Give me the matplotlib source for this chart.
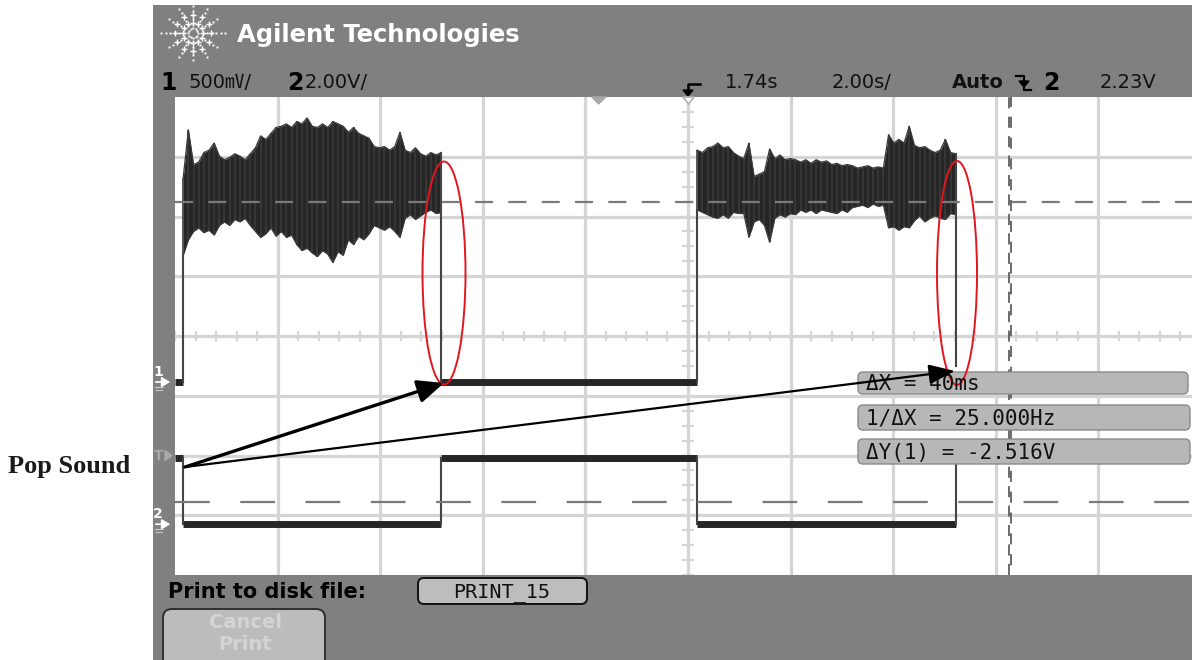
import numpy as np
import matplotlib
matplotlib.use("Agg")
import matplotlib.pyplot as plt
from matplotlib.patches import Rectangle, FancyBboxPatch, Ellipse, Polygon

plt.rcParams["lines.scale_dashes"] = False

# ---------------- scope settings ----------------
ch1_scale = 0.5        # V/div
ch2_scale = 2.0        # V/div
time_per_div = 2.0     # s/div
delay = 1.74           # s (centre of screen)
trig_level = 2.23      # V

# ---------------- waveform data ----------------
edge_times = [-8.10, -3.07, 1.92, 6.96]          # s
ch1_low = 0.0
ch1_end_level = 0.13
ch2_levels = [2.2, 0.0, 2.2, 0.0, 2.2]

burst1_upper = [1.71, 2.11, 1.82, 1.84, 1.92, 1.94, 2.00, 1.89, 1.86, 1.88, 1.91, 1.89, 1.86,
                1.91, 1.96, 2.06, 2.03, 2.08, 2.13, 2.14, 2.16, 2.13, 2.18, 2.16, 2.21, 2.14,
                2.13, 2.16, 2.13, 2.18, 2.16, 2.14, 2.09, 2.13, 2.08, 2.06, 2.04, 1.97, 1.96,
                1.97, 1.94, 1.97, 2.09, 1.94, 1.92, 1.96, 1.91, 1.89, 1.92, 1.90, 1.92]
burst1_lower = [1.06, 1.19, 1.26, 1.29, 1.25, 1.27, 1.23, 1.31, 1.34, 1.31, 1.36, 1.34, 1.37,
                1.31, 1.26, 1.21, 1.24, 1.29, 1.22, 1.26, 1.21, 1.23, 1.15, 1.10, 1.12, 1.08,
                1.05, 1.10, 1.07, 1.00, 1.09, 1.06, 1.19, 1.15, 1.22, 1.19, 1.24, 1.31, 1.29,
                1.27, 1.30, 1.26, 1.21, 1.37, 1.40, 1.36, 1.39, 1.42, 1.44, 1.41, 1.42]
burst2_upper = [1.94, 1.92, 1.96, 1.97, 2.00, 1.96, 1.97, 1.92, 1.89, 1.87, 2.00, 1.72, 1.74,
                1.76, 1.95, 1.87, 1.90, 1.86, 1.87, 1.86, 1.84, 1.86, 1.83, 1.86, 1.84, 1.85,
                1.82, 1.83, 1.81, 1.82, 1.81, 1.79, 1.80, 1.81, 1.79, 1.80, 1.79, 2.07, 2.00,
                2.03, 2.00, 2.14, 1.98, 1.96, 1.97, 1.94, 1.92, 1.94, 2.03, 1.92, 1.91]
burst2_lower = [1.44, 1.42, 1.40, 1.38, 1.37, 1.40, 1.37, 1.42, 1.41, 1.41, 1.21, 1.34, 1.36,
                1.31, 1.17, 1.37, 1.40, 1.38, 1.41, 1.40, 1.44, 1.42, 1.44, 1.41, 1.44, 1.43,
                1.42, 1.41, 1.44, 1.42, 1.46, 1.47, 1.48, 1.46, 1.49, 1.47, 1.48, 1.29, 1.30,
                1.27, 1.30, 1.29, 1.35, 1.39, 1.34, 1.37, 1.39, 1.37, 1.36, 1.41, 1.40]

# cursors
cursor_y1 = 1.51
delta_y = -2.516
cursor_x1 = 7.99
delta_x = 0.040

# texts
header_title = "Agilent Technologies"
meas_lines = ["\u0394X = 40ms", "1/\u0394X = 25.000Hz", "\u0394Y(1) = -2.516V"]
annot_label = "Pop Sound"

# ---------------- layout ----------------
W, H = 1192, 660
fig = plt.figure(figsize=(W / 100, H / 100), dpi=100)
fig.patch.set_facecolor("white")

PX_DIV_X = 102.6
GL, GT, GB = 175, 97, 575
GCX = 688
CH1_POS = -0.77     # ground marker position (div)
CH2_POS = -3.15

def ch1_div(v):
    return CH1_POS + np.asarray(v, dtype=float) / ch1_scale

def ch2_div(v):
    return CH2_POS + np.asarray(v, dtype=float) / ch2_scale

# background (pixel coordinates)
bg = fig.add_axes([0, 0, 1, 1], zorder=0)
bg.set_xlim(0, W); bg.set_ylim(H, 0); bg.axis("off")
GRAY = "#808080"
bg.add_patch(Rectangle((153, 5), W - 153, H - 5, color=GRAY, lw=0))

# graticule axes
ax = fig.add_axes([GL / W, (H - GB) / H, (W - GL) / W, (GB - GT) / H], zorder=1)
xmin = delay - 5 * time_per_div
xmax = delay + (W - GCX) / PX_DIV_X * time_per_div
ax.set_xlim(xmin, xmax)
ax.set_ylim(-4, 4)
ax.set_facecolor("white")
for s in ax.spines.values():
    s.set_visible(False)
ax.set_xticks([]); ax.set_yticks([])

GRID = "#d5d5d5"
for k in range(-4, 5):
    ax.axvline(delay + k * time_per_div, color=GRID, lw=2.3, zorder=1)
for k in range(-3, 4):
    ax.axhline(k, color=GRID, lw=2.3, zorder=1)
# centre-axis minor ticks
for yy in np.arange(-4, 4.01, 0.25):
    ax.plot([delay - 0.1, delay + 0.1], [yy, yy], color=GRID, lw=1.6, zorder=1)
for xx in np.arange(delay - 10, xmax, 0.4):
    ax.plot([xx, xx], [-0.07, 0.07], color=GRID, lw=1.6, zorder=1)

# cursors (drawn over the traces)
ax.axhline(ch1_div(cursor_y1), color="#7a7a7a", lw=1.6, dashes=(13, 11), zorder=5)
ax.axhline(ch1_div(cursor_y1 + delta_y), color="#7a7a7a", lw=1.6, dashes=(25, 22), zorder=5)
ax.axvline(cursor_x1, color="#6a6a6a", lw=1.4, dashes=(8, 6), zorder=5)
ax.axvline(cursor_x1 + delta_x, color="#6a6a6a", lw=1.4, dashes=(0, 7, 8, 0), zorder=5)

TRACE = "#262626"
EDGE = "#444444"
e0, e1, e2, e3 = edge_times

# channel 1
for a, b in [(xmin, e0), (e1, e2)]:
    ax.plot([a, b], ch1_div([ch1_low, ch1_low]), color=TRACE, lw=5, solid_capstyle="butt", zorder=3)
for t_edges, up, lo in [((e0, e1), burst1_upper, burst1_lower), ((e2, e3), burst2_upper, burst2_lower)]:
    t = np.linspace(t_edges[0], t_edges[1], len(up))
    ax.fill_between(t, ch1_div(lo), ch1_div(up), color=TRACE, lw=0, zorder=3)
    ax.vlines(t, ch1_div(lo), ch1_div(up), color="#3a3a3a", lw=1.2, zorder=3)
    ax.plot(t, ch1_div(up), color="#3a3a3a", lw=0.9, zorder=3)
    ax.plot(t, ch1_div(lo), color="#3a3a3a", lw=0.9, zorder=3)
ax.plot([e0, e0], ch1_div([ch1_low, burst1_lower[0]]), color=EDGE, lw=1.5, zorder=3)
ax.plot([e1, e1], ch1_div([burst1_upper[-1], ch1_low]), color=EDGE, lw=1.5, zorder=3)
ax.plot([e2, e2], ch1_div([ch1_low, burst2_lower[0]]), color=EDGE, lw=1.5, zorder=3)
ax.plot([e3, e3], ch1_div([burst2_upper[-1], ch1_end_level]), color=EDGE, lw=1.5, zorder=3)

# channel 2
bounds = [xmin] + edge_times
for i in range(4):
    ax.plot([bounds[i], bounds[i + 1]], ch2_div([ch2_levels[i]] * 2), color=TRACE, lw=5,
            solid_capstyle="butt", zorder=3)
for i, te in enumerate(edge_times):
    ax.plot([te, te], ch2_div([ch2_levels[i], ch2_levels[i + 1]]), color=EDGE, lw=1.5, zorder=3)

# ---------------- overlay (pixel coordinates) ----------------
ov = fig.add_axes([0, 0, 1, 1], zorder=4)
ov.set_xlim(0, W); ov.set_ylim(H, 0); ov.axis("off")
ov.patch.set_alpha(0)

# logo star
cx, cy = 193, 33
for ang in range(0, 360, 30):
    r = np.radians(ang)
    rx = 36 if ang % 180 == 0 else 30
    ry = 29 if ang % 180 == 90 else 30
    rr = np.arange(5, 1.01 * max(rx, ry), 4.5)
    xs = cx + np.cos(r) * rr * rx / max(rx, ry)
    ys = cy - np.sin(r) * rr * ry / max(rx, ry)
    ov.plot(xs, ys, ls="none", marker="s", ms=1.4, color="white", mew=0)
    for rp in (10, 18):
        ov.plot(cx + np.cos(r) * rp, cy - np.sin(r) * rp, marker="+", ms=4, mew=1.0, color="white")
ov.text(237, 35, header_title, color="white", fontsize=17.5, fontweight="bold",
        va="center", ha="left", family="DejaVu Sans")

# status line
ST_Y = 83
ov.text(160, ST_Y, "1", fontsize=17, fontweight="bold", va="center", ha="left")
ov.text(189, ST_Y, "500\u33B7/", fontsize=14, va="center", ha="left",
        family=["DejaVu Sans", "Noto Sans CJK JP"], color="#111111")
ov.text(287, ST_Y, "2", fontsize=17, fontweight="bold", va="center", ha="left")
ov.text(305, ST_Y, "2.00V/", fontsize=14, va="center", ha="left", color="#111111")
ov.text(725, ST_Y, "1.74s", fontsize=14, va="center", ha="left", color="#111111")
ov.text(832, ST_Y, "2.00s/", fontsize=14, va="center", ha="left", color="#111111")
ov.text(952, ST_Y, "Auto", fontsize=14, fontweight="bold", va="center", ha="left", color="#111111")
# falling-edge trigger symbol
ov.plot([1016, 1024, 1024, 1031], [76, 76, 90, 90], color="black", lw=1.6)
ov.add_patch(Polygon([[1019, 81], [1029, 81], [1024, 87]], closed=True, color="black"))
ov.text(1043, ST_Y, "2", fontsize=17, fontweight="bold", va="center", ha="left")
ov.text(1100, ST_Y, "2.23V", fontsize=14, va="center", ha="left", color="#111111")

# delay reference marker
ov.plot([700, 688, 688], [84, 84, 91], color="black", lw=1.8)
ov.add_patch(Polygon([[683, 90], [693, 90], [688, 96]], closed=True, color="black"))
ov.add_patch(Polygon([[683, 97], [694, 97], [688.5, 104]], closed=True, fc="white", ec="#b0b0b0", lw=1.2))
# trigger point marker (t = 0)
t0_px = GCX + (0 - delay) / time_per_div * PX_DIV_X
ov.add_patch(Polygon([[t0_px - 7, 97], [t0_px + 7, 97], [t0_px, 104]], closed=True, color="#a8a8a8"))

# channel / trigger markers on the left strip
def ch_px(divv):
    return 336 - divv * 59.75

for lab, ypx, col in [("1", ch_px(CH1_POS), "white"), ("2", ch_px(CH2_POS), "white")]:
    ov.text(158, ypx - 10, lab, fontsize=10, fontweight="bold", color=col, ha="center", va="center")
    ov.annotate("", xy=(173, ypx), xytext=(153, ypx),
                arrowprops=dict(arrowstyle="-|>,head_length=0.5,head_width=0.3", color=col, lw=1.2))
    ov.plot([155, 163], [ypx + 5, ypx + 5], color="#c8c8c8", lw=0.8)
    ov.plot([156, 162], [ypx + 8, ypx + 8], color="#c8c8c8", lw=0.8)
ytrig = ch_px(ch2_div(trig_level))
ov.text(159, ytrig - 2, "T", fontsize=10, fontweight="bold", color="#a8a8a8", ha="center", va="center")
ov.add_patch(Polygon([[165, ytrig - 7], [165, ytrig + 3], [172, ytrig - 2]], closed=True, color="#a8a8a8"))

# measurement boxes
boxes = [(858, 372, 330, 22), (858, 405, 332, 25), (858, 439, 332, 25)]
for (bx, by, bw, bh), txt in zip(boxes, meas_lines):
    ov.add_patch(FancyBboxPatch((bx, by), bw, bh, boxstyle="round,pad=0,rounding_size=5",
                                fc="#b7b7b7", ec="#8a8a8a", lw=1.0))
    ov.text(866, by + bh / 2 + 1, txt, fontsize=15, va="center", ha="left",
            family="DejaVu Sans Mono", color="#111111")

# bottom bar
ov.text(168, 592, "Print to disk file:", fontsize=15, fontweight="bold", va="center", ha="left")
ov.add_patch(FancyBboxPatch((418, 578), 169, 26, boxstyle="round,pad=0,rounding_size=6",
                            fc="#bdbdbd", ec="#111111", lw=1.4))
ov.text(502, 597, "PRINT_15", fontsize=14.5, va="baseline", ha="center",
        family="DejaVu Sans Mono", color="#111111")
ov.add_patch(FancyBboxPatch((163, 609), 162, 60, boxstyle="round,pad=0,rounding_size=9",
                            fc="#bcbcbc", ec="#2f2f2f", lw=1.4))
ov.text(245, 622, "Cancel", fontsize=14, fontweight="bold", color="#d4d4d4", ha="center", va="center")
ov.text(245, 645, "Print", fontsize=14, fontweight="bold", color="#d4d4d4", ha="center", va="center")

# annotation: red ellipses, arrows, label
ov.add_patch(Ellipse((444, 273), 43, 223, fill=False, ec="#e3161e", lw=1.4))
ov.add_patch(Ellipse((957, 273), 40, 224, fill=False, ec="#e3161e", lw=1.4))
ov.annotate("", xy=(444, 383), xytext=(185, 467),
            arrowprops=dict(arrowstyle="-|>,head_length=0.8,head_width=0.35", color="black",
                            lw=2.4, shrinkA=0, shrinkB=0, mutation_scale=20))
ov.annotate("", xy=(955, 371), xytext=(185, 467),
            arrowprops=dict(arrowstyle="-|>,head_length=0.8,head_width=0.3", color="black",
                            lw=1.6, shrinkA=0, shrinkB=0, mutation_scale=20))
ov.text(8, 467, annot_label, fontsize=19, fontweight="bold", family="Liberation Serif",
        va="center", ha="left", color="#1a1a1a")

fig.savefig("out.png", dpi=100, facecolor="white")
